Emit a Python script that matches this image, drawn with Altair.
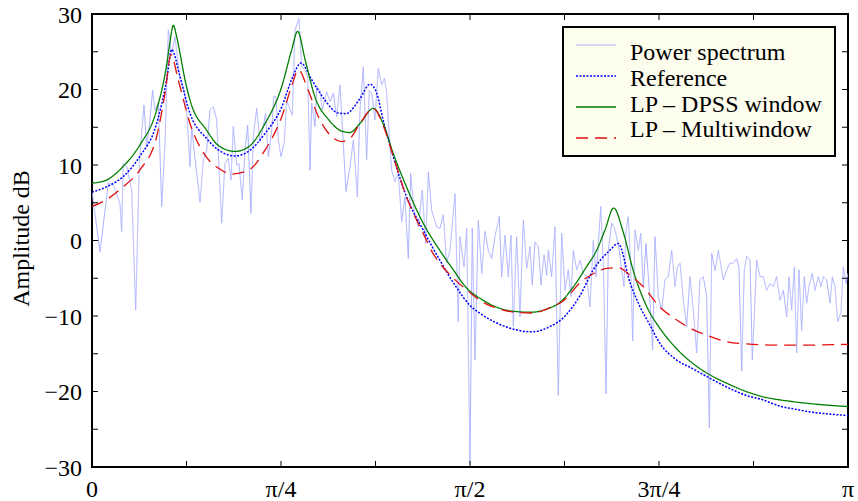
import altair as alt
import pandas as pd

# ---------------- data (frequency in units of pi, amplitude in dB) ----------------
ps_f = [0.0, 0.0106, 0.0216, 0.0282, 0.037, 0.0392, 0.0414, 0.0459, 0.0525, 0.0578,
        0.0626, 0.0657, 0.0688, 0.0723, 0.0767, 0.0802, 0.0833, 0.0877, 0.0922, 0.0966,
        0.101, 0.1054, 0.1098, 0.1129, 0.1164, 0.1208, 0.1252, 0.1296, 0.1318, 0.1362,
        0.1429, 0.1473, 0.1517, 0.1561, 0.1605, 0.1649, 0.1715, 0.1759, 0.1803, 0.1839,
        0.1869, 0.1914, 0.1944, 0.1988, 0.2024, 0.2059, 0.2103, 0.2134, 0.2178, 0.2222,
        0.2266, 0.2297, 0.2332, 0.2377, 0.2403, 0.2434, 0.2465, 0.25, 0.2544, 0.2575,
        0.2619, 0.265, 0.2685, 0.2738, 0.2774, 0.2817, 0.2853, 0.2884, 0.2906, 0.295,
        0.2972, 0.3016, 0.3047, 0.3104, 0.3148, 0.3192, 0.3236, 0.328, 0.336, 0.3413,
        0.3457, 0.351, 0.3545, 0.3589, 0.3633, 0.3668, 0.37, 0.3743, 0.3787, 0.3832,
        0.3867, 0.3898, 0.3933, 0.3964, 0.4008, 0.4052, 0.4096, 0.414, 0.4184, 0.4215,
        0.4259, 0.4316, 0.4369, 0.4414, 0.4449, 0.4493, 0.4559, 0.4603, 0.4647, 0.4691,
        0.4735, 0.4802, 0.4845, 0.4868, 0.4921, 0.4956, 0.5, 0.503, 0.5066, 0.511,
        0.5155, 0.5198, 0.5242, 0.5287, 0.533, 0.5388, 0.5419, 0.5463, 0.5507, 0.5542,
        0.5573, 0.5617, 0.5661, 0.5705, 0.575, 0.5794, 0.5824, 0.586, 0.5904, 0.5939,
        0.5979, 0.6014, 0.6036, 0.608, 0.6124, 0.6168, 0.6213, 0.6257, 0.63, 0.6336,
        0.6367, 0.6411, 0.6455, 0.6499, 0.6543, 0.6587, 0.6631, 0.6667, 0.6698, 0.6729,
        0.6764, 0.6799, 0.683, 0.6874, 0.6905, 0.694, 0.6975, 0.7006, 0.7037, 0.7063,
        0.7094, 0.7125, 0.7152, 0.7183, 0.7227, 0.7258, 0.7293, 0.7328, 0.7372, 0.7416,
        0.7447, 0.7491, 0.7535, 0.7579, 0.7623, 0.7668, 0.7712, 0.7743, 0.7778, 0.7822,
        0.7866, 0.791, 0.7954, 0.7998, 0.8042, 0.8086, 0.813, 0.8166, 0.8197, 0.8241,
        0.8285, 0.8351, 0.8395, 0.8439, 0.8483, 0.8527, 0.8558, 0.8594, 0.8628, 0.866,
        0.8704, 0.8734, 0.876, 0.8792, 0.8836, 0.888, 0.8924, 0.8968, 0.9012, 0.9056,
        0.9101, 0.9145, 0.9189, 0.922, 0.9255, 0.929, 0.9321, 0.9352, 0.9387, 0.9422,
        0.9453, 0.9484, 0.9528, 0.9563, 0.9607, 0.9643, 0.9674, 0.9718, 0.9762, 0.9793,
        0.9828, 0.9864, 0.9907, 0.9938, 0.9974, 1.0]
ps_db = [6.5, -1.5, 7.6, 7.35, 4.9, 1.2, 10.2, 9.8, 6.7, -9.2,
         10.2, 14.2, 17.95, 12.4, 15.96, 19.9, 17.3, 18.2, 4.5, 12.9,
         27.9, 24.8, 27.0, 24.35, 21.3, 20.4, 17.3, 9.8, 15.1, 10.9,
         5.1, 10.7, 12.0, 17.3, 17.7, 16.0, 2.3, 10.2, 10.9, 8.0,
         15.1, 10.0, 10.2, 5.4, 12.0, 15.3, 3.6, 13.75, 17.5, 13.1,
         15.1, 16.85, 11.1, 14.6, 19.05, 19.05, 13.3, 11.1, 13.1, 18.6,
         17.3, 16.6, 27.9, 29.4, 23.0, 22.6, 21.7, 9.3, 18.2, 15.1,
         20.4, 19.9, 17.3, 19.7, 18.4, 19.5, 16.4, 20.6, 6.5, 9.8,
         13.3, 5.8, 17.3, 23.0, 10.7, 19.9, 19.5, 16.0, 22.8, 20.6,
         21.5, 19.5, 13.75, 9.3, 7.8, 8.9, 2.5, 5.8, -2.4, 8.9,
         4.0, 1.8, 6.7, -0.4, 9.1, 4.0, 1.8, 1.6, 3.4, -3.0,
         -1.3, 6.2, -10.75, 0.5, -3.5, 1.6, -29.5, 1.6, -15.8, 2.7,
         -4.35, 1.2, -1.3, -2.4, 0.5, 3.2, -4.8, 0.7, -4.8, 0.7,
         -11.4, 0.5, -10.1, 2.7, -3.7, -0.8, -5.9, -0.2, -0.8, -5.9,
         -1.9, -4.6, -1.3, -4.8, 1.8, -20.5, 0.95, -6.6, -3.9, -7.4,
         -1.3, -3.9, -2.6, -4.35, -4.8, -8.8, 0.0, -4.8, -0.4, 4.5,
         -3.0, -20.3, -1.3, 2.3, 1.8, 0.5, -1.3, -3.9, -6.1, 1.4,
         3.15, -3.5, -13.3, 1.4, -1.3, 0.95, -6.1, -0.4, -6.6, -14.5,
         0.5, -7.4, -9.2, -5.2, -4.8, -1.3, -6.1, -3.5, -3.0, -7.9,
         -11.4, -4.8, -9.2, -14.9, -5.2, -4.8, -7.4, -24.8, -1.7, -4.0,
         -1.3, -5.2, -3.9, -3.0, -3.0, -2.4, -3.7, -17.3, -3.9, -2.1,
         -2.6, -15.8, -10.1, -2.6, -4.8, -4.8, -6.6, -5.7, -6.1, -4.8,
         -7.9, -6.6, -10.1, -4.8, -9.2, -3.5, -14.9, -3.9, -11.9, -4.8,
         -8.3, -6.1, -4.35, -6.6, -4.8, -6.1, -4.8, -5.2, -8.3, -4.8,
         -6.1, -10.75, -9.6, -3.5, -5.7, -4.35]

ref_f = [0.0, 0.019, 0.041, 0.063, 0.0855, 0.0988, 0.1054, 0.1164, 0.1296, 0.1517,
         0.167, 0.189, 0.207, 0.229, 0.251, 0.264, 0.2765, 0.2906, 0.308, 0.325,
         0.336, 0.3545, 0.3677, 0.3766, 0.385, 0.3986, 0.416, 0.438, 0.46, 0.482,
         0.5, 0.5155, 0.537, 0.5595, 0.5816, 0.6036, 0.6257, 0.6455, 0.663, 0.685,
         0.696, 0.712, 0.725, 0.738, 0.751, 0.773, 0.795, 0.8175, 0.8395, 0.868,
         0.884, 0.912, 0.9277, 0.956, 0.972, 1.0]
ref_db = [6.4, 7.1, 8.45, 11.1, 15.5, 21.3, 25.3, 21.7, 16.85, 13.5,
          12.0, 11.2, 11.8, 14.2, 17.7, 21.3, 23.5, 21.3, 18.6, 16.9,
          16.8, 18.8, 20.7, 19.5, 16.0, 11.1, 5.8, 1.4, -2.6, -6.2,
          -8.6, -9.8, -11.0, -11.8, -12.1, -11.5, -10.0, -7.3, -3.9, -1.3,
          -0.4, -5.7, -8.8, -11.2, -13.6, -15.8, -17.0, -18.25, -19.4, -20.6,
          -21.0, -22.0, -22.3, -22.8, -22.95, -23.2]

dpss_f = [0.0, 0.019, 0.041, 0.063, 0.0855, 0.0988, 0.1032, 0.1075, 0.112, 0.1164,
          0.123, 0.1296, 0.1517, 0.167, 0.189, 0.207, 0.229, 0.251, 0.264, 0.272,
          0.282, 0.295, 0.313, 0.33, 0.341, 0.3545, 0.372, 0.385, 0.3986, 0.416,
          0.438, 0.46, 0.478, 0.4956, 0.5155, 0.537, 0.5595, 0.5816, 0.6036, 0.619,
          0.637, 0.654, 0.6675, 0.6786, 0.69, 0.703, 0.716, 0.734, 0.751, 0.773,
          0.795, 0.8175, 0.8395, 0.868, 0.884, 0.9277, 0.972, 1.0]
dpss_db = [7.6, 8.0, 9.8, 12.6, 17.3, 23.3, 26.3, 28.5, 27.0, 24.8,
           21.3, 18.6, 14.6, 12.6, 11.8, 12.4, 15.5, 20.4, 25.2, 27.7,
           23.9, 19.0, 16.0, 14.5, 14.3, 15.5, 17.5, 15.5, 11.5, 7.1,
           2.3, -1.3, -3.9, -6.3, -7.8, -8.9, -9.4, -9.5, -9.0, -8.2,
           -6.1, -3.5, -1.3, 1.4, 4.3, 1.0, -4.0, -8.8, -11.6, -14.3,
           -16.3, -17.8, -18.9, -20.1, -20.6, -21.35, -21.8, -22.0]

multi_f = [0.0, 0.019, 0.041, 0.063, 0.0855, 0.0966, 0.1045, 0.114, 0.1296, 0.1517,
           0.167, 0.185, 0.207, 0.229, 0.251, 0.264, 0.273, 0.286, 0.2994, 0.317,
           0.33, 0.341, 0.3545, 0.372, 0.385, 0.3986, 0.416, 0.438, 0.451, 0.46,
           0.478, 0.5, 0.5155, 0.537, 0.5595, 0.5816, 0.6036, 0.6257, 0.6455, 0.663,
           0.681, 0.696, 0.7116, 0.729, 0.751, 0.773, 0.795, 0.8175, 0.8395, 0.866,
           0.9057, 0.95, 1.0]
multi_db = [4.5, 5.4, 7.1, 9.3, 13.75, 19.5, 24.6, 21.3, 15.5, 11.0,
            9.6, 8.8, 9.3, 12.0, 16.4, 20.4, 22.6, 19.9, 16.4, 13.75,
            13.1, 13.5, 15.5, 17.5, 15.3, 11.1, 5.8, 0.95, -1.7, -3.0,
            -5.0, -6.9, -8.1, -9.0, -9.5, -9.6, -9.0, -7.8, -5.6, -4.4,
            -3.7, -3.6, -4.6, -6.1, -8.8, -10.5, -11.8, -12.7, -13.4, -13.7,
            -13.85, -13.85, -13.75]

series_names = ["Power spectrum", "Reference", "LP \u2013 DPSS window", "LP \u2013 Multiwindow"]
series_colors = ["#aab0ff", "#0000ff", "#007f00", "#e01010"]
series_dash = [[1, 0], [2, 1.5], [1, 0], [12, 7]]
series_width = [1.0, 1.5, 1.3, 1.3]

xtick_vals = [0.0, 0.25, 0.5, 0.75, 1.0]
xtick_labels = ["0", "\u03c0/4", "\u03c0/2", "3\u03c0/4", "\u03c0"]
xminor_vals = [0.125, 0.25, 0.375, 0.5, 0.625, 0.75, 0.875]
ytick_vals = [-30, -20, -10, 0, 10, 20, 30]
ytick_labels = ["\u221230", "\u221220", "\u221210", "0", "10", "20", "30"]
yminor_vals = [-25, -20, -15, -10, -5, 0, 5, 10, 15, 20, 25]
y_title = "Amplitude dB"

# ---------------- layout / style ----------------
W, H = 756, 453
FONT = "Liberation Serif"
FS = 24
TICK = 6

xscale = alt.Scale(domain=[0, 1], nice=False, zero=False)
yscale = alt.Scale(domain=[-30, 30], nice=False, zero=False)
X = alt.X("f:Q", scale=xscale, axis=None)
Y = alt.Y("v:Q", scale=yscale, axis=None)


def curve(fs, dbs, i, interp):
    df = pd.DataFrame({"f": fs, "v": dbs})
    mark = alt.Chart(df).mark_line(color=series_colors[i], strokeDash=series_dash[i],
                                   strokeWidth=series_width[i], interpolate=interp,
                                   clip=True)
    return mark.encode(x=X, y=Y)


layers = [
    curve(ps_f, ps_db, 0, "linear"),
    curve(ref_f, ref_db, 1, "monotone"),
    curve(dpss_f, dpss_db, 2, "monotone"),
    curve(multi_f, multi_db, 3, "monotone"),
]

# inward ticks on all four sides
xt = pd.DataFrame({"f": xminor_vals})
yt = pd.DataFrame({"v": yminor_vals})
for y0, y1 in [(H, H - TICK), (0, TICK)]:
    layers.append(alt.Chart(xt).mark_rule(color="black", strokeWidth=1).encode(
        x=X, y=alt.value(y0), y2=alt.value(y1)))
for x0, x1 in [(0, TICK), (W, W - TICK)]:
    layers.append(alt.Chart(yt).mark_rule(color="black", strokeWidth=1).encode(
        y=Y, x=alt.value(x0), x2=alt.value(x1)))

# tick labels and axis title as text
xl = pd.DataFrame({"f": xtick_vals, "t": xtick_labels})
layers.append(alt.Chart(xl).mark_text(
    align="center", baseline="alphabetic", font=FONT, fontSize=FS, color="black").encode(
    x=X, y=alt.value(H + 30), text="t:N"))
yl = pd.DataFrame({"v": ytick_vals, "t": ytick_labels})
layers.append(alt.Chart(yl).mark_text(
    align="right", baseline="alphabetic", dy=8.5, font=FONT, fontSize=FS, color="black").encode(
    y=Y, x=alt.value(-10), text="t:N"))
layers.append(alt.Chart(pd.DataFrame({"t": [y_title]})).mark_text(
    align="center", baseline="alphabetic", angle=270, font=FONT, fontSize=FS,
    color="black").encode(x=alt.value(-63), y=alt.value(H / 2 - 2), text="t:N"))

# legend box
one = pd.DataFrame({"k": [0]})
layers.append(alt.Chart(one).mark_rect(fill="#fdfdee", stroke="black", strokeWidth=2).encode(
    x=alt.value(471), x2=alt.value(743), y=alt.value(13), y2=alt.value(142)))
line_y = [31, 62, 93, 124]
text_y = [46, 72, 97.7, 123.3]
for i, name in enumerate(series_names):
    layers.append(alt.Chart(one).mark_rule(color=series_colors[i], strokeDash=series_dash[i],
                                           strokeWidth=series_width[i]).encode(
        x=alt.value(484), x2=alt.value(524), y=alt.value(line_y[i])))
    layers.append(alt.Chart(pd.DataFrame({"t": [name]})).mark_text(
        align="left", baseline="alphabetic", font=FONT, fontSize=FS, color="black").encode(
        x=alt.value(538), y=alt.value(text_y[i]), text="t:N"))

chart = alt.layer(*layers).properties(
    width=W, height=H,
    autosize=alt.AutoSizeParams(type="none"),
    padding={"left": 92, "top": 14, "right": 10, "bottom": 34},
    background="white",
).configure_view(stroke="black", strokeWidth=2)

chart.save("out.html", embed_options={"renderer": "svg", "actions": False})
